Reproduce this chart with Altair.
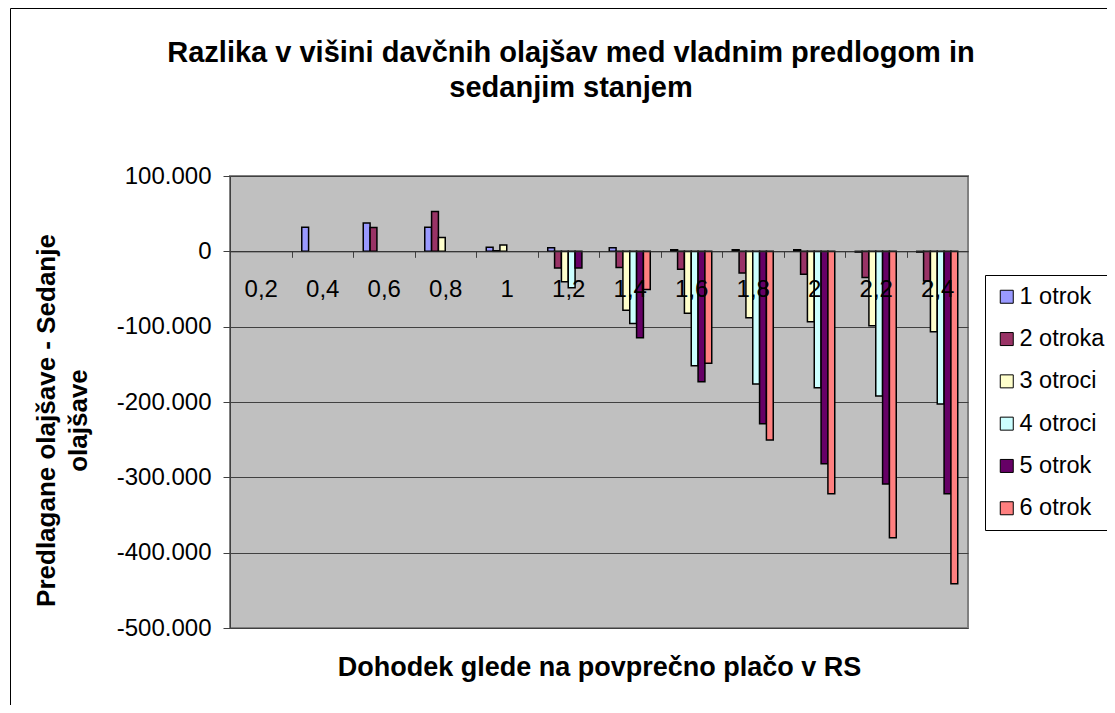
import altair as alt
import pandas as pd

categories = ["0,2", "0,4", "0,6", "0,8", "1", "1,2", "1,4", "1,6", "1,8", "2", "2,2", "2,4"]
series_names = ["1 otrok", "2 otroka", "3 otroci", "4 otroci", "5 otrok", "6 otrok"]
s1 = [0, 32000, 37700, 32000, 5300, 4800, 4800, 2000, 2000, 2000, -1000, -1000]
s2 = [0, 0, 31800, 53000, 800, -22000, -21600, -23900, -28800, -30500, -34900, -39400]
s3 = [0, 0, 0, 18500, 8500, -40300, -78200, -82300, -88100, -93400, -98700, -106700]
s4 = [0, 0, 0, 0, 0, -48300, -95900, -151900, -176200, -181000, -192000, -202700]
s5 = [0, 0, 0, 0, 0, -22000, -114700, -173100, -228800, -282000, -308900, -321700]
s6 = [0, 0, 0, 0, 0, 0, -50800, -148700, -250500, -321700, -380100, -441200]
colors = ["#9999FF", "#993366", "#FFFFCC", "#CCFFFF", "#660066", "#FF8080"]
y_ticks = [100000, 0, -100000, -200000, -300000, -400000, -500000]

title_lines = ["Razlika v višini davčnih olajšav med vladnim predlogom in", "sedanjim stanjem"]
x_title = "Dohodek glede na povprečno plačo v RS"
y_title = ["Predlagane olajšave - Sedanje", "olajšave"]

FONT = "Liberation Sans"
W, H = 738, 452
Y_MIN, Y_MAX = -500000, 100000
zero_offset = -H * (0 - Y_MIN) / (Y_MAX - Y_MIN)
band = W / len(categories)
inner = 1 / 3

rows = []
for name, vals in zip(series_names, [s1, s2, s3, s4, s5, s6]):
    for c, v in zip(categories, vals):
        rows.append({"cat": c, "series": name, "value": v})
df = pd.DataFrame(rows)

label_expr = "replace(replace(format(datum.value, ','), regexp(',', 'g'), '.'), '\u2212', '-')"

bars = alt.Chart(df).transform_filter("datum.value != 0").mark_bar(
    stroke="black", strokeWidth=1.5
).encode(
    x=alt.X(
        "cat:N",
        sort=categories,
        scale=alt.Scale(domain=categories, paddingInner=inner, paddingOuter=inner / 2),
        axis=alt.Axis(
            orient="bottom", offset=zero_offset, zindex=1,
            domainColor="#333333", tickColor="#404040", tickSize=6,
            tickOffset=-band / 2, labelOffset=band / 2,
            labelAngle=0, labelFontSize=24, labelFont=FONT, labelColor="black",
            labelPadding=20, labelOverlap=False, grid=False,
            title=x_title, titleY=424, titleBaseline="alphabetic",
            titleFontSize=27, titleFont=FONT, titleFontWeight="bold", titleColor="black",
        ),
    ),
    xOffset=alt.XOffset(
        "series:N", sort=series_names,
        scale=alt.Scale(domain=series_names, paddingInner=0, paddingOuter=0),
    ),
    y=alt.Y(
        "value:Q",
        scale=alt.Scale(domain=[Y_MIN, Y_MAX], nice=False, zero=False),
        axis=alt.Axis(
            values=y_ticks, labelExpr=label_expr, grid=True, gridColor="#404040",
            gridWidth=1, domainColor="#404040", tickColor="#404040", tickSize=7,
            labelFontSize=24, labelFont=FONT, labelColor="black", labelPadding=12,
            title=y_title, titleFontSize=26, titleFont=FONT, titleFontWeight="bold",
            titleColor="black", titleX=-171, titleY=244, titleBaseline="bottom",
            titleLineHeight=32, zindex=0,
        ),
    ),
    color=alt.Color(
        "series:N",
        scale=alt.Scale(domain=series_names, range=colors),
        legend=alt.Legend(
            title=None, orient="none", legendX=755, legendY=99, direction="vertical",
            fillColor="white", strokeColor="black", padding=10,
            labelFontSize=23.5, labelFont=FONT, labelColor="black", labelOffset=1,
            symbolType="square", symbolSize=169, symbolStrokeColor="black",
            symbolStrokeWidth=1, symbolOpacity=1, rowPadding=17.3, labelLimit=0,
        ),
    ),
)

border = alt.Chart(alt.Data(values=[{"k": 1}])).mark_rect(
    fill="transparent", stroke="black", strokeWidth=1
).encode(
    x=alt.value(-219.5), x2=alt.value(W + 300),
    y=alt.value(-167.5), y2=alt.value(H + 300),
)

title = alt.Chart(alt.Data(values=[{"k": 1}])).mark_text(
    text=title_lines, font=FONT, fontSize=29, fontWeight="bold", color="black",
    align="center", baseline="alphabetic", lineHeight=35,
).encode(
    x=alt.value(W / 2 - 28), y=alt.value(-114.5),
)

chart = alt.layer(border, bars, title).properties(
    width=W, height=H,
    padding={"left": 222, "top": 168, "right": 139, "bottom": 77},
    autosize=alt.AutoSizeParams(type="none"),
).configure(background="white").configure_view(
    fill="#C0C0C0", stroke="#808080", strokeWidth=2
)

chart.save("out.html", embed_options={"renderer": "svg", "actions": False})
